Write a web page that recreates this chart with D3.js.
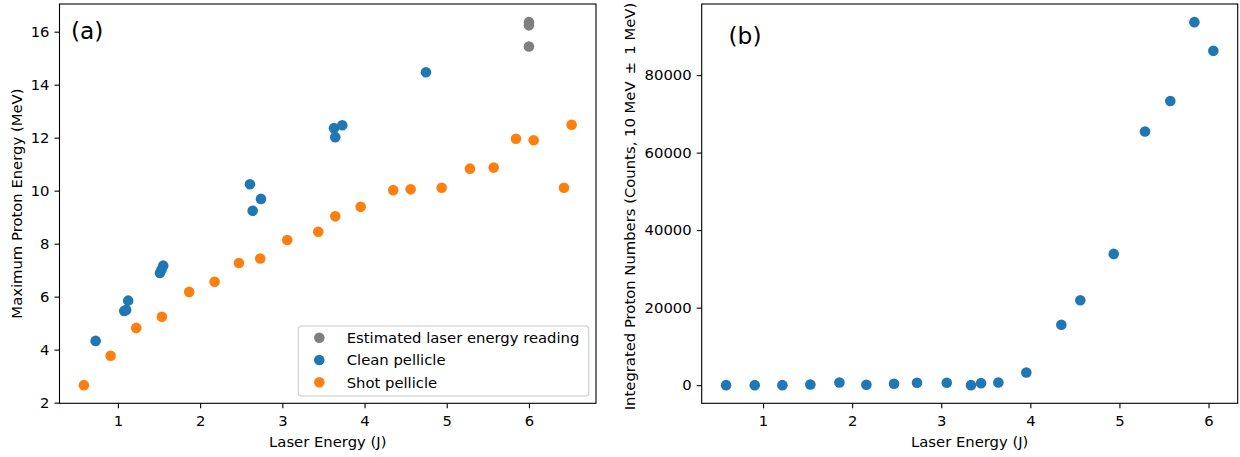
<!DOCTYPE html>
<html>
<head>
<meta charset="utf-8">
<script src="https://cdn.jsdelivr.net/npm/d3@7"></script>
<style>
  body { margin: 0; background: #fff; }
  svg text { font-family: "DejaVu Sans", sans-serif; fill: #000; }
</style>
</head>
<body>
<div id="d3-container"></div>
<script>
// panel (a) - maximum proton energy vs laser energy
const estimatedX = [6.0, 6.0, 6.0];
const estimatedY = [16.36, 16.24, 15.44];

const cleanX = [0.729, 1.077, 1.10, 1.125, 1.511, 1.53, 1.551, 2.606, 2.639, 2.74, 3.628, 3.644, 3.729, 4.747];
const cleanY = [4.33, 5.46, 5.50, 5.85, 6.89, 7.02, 7.17, 10.24, 9.24, 9.69, 12.36, 12.02, 12.47, 14.47];

const shotX = [0.586, 0.911, 1.223, 1.535, 1.867, 2.176, 2.472, 2.731, 3.06, 3.437, 3.644, 3.953,
               4.349, 4.561, 4.938, 5.282, 5.571, 5.842, 6.057, 6.426, 6.519];
const shotY = [2.66, 3.77, 4.82, 5.24, 6.18, 6.56, 7.27, 7.44, 8.14, 8.45, 9.03, 9.39,
               10.02, 10.05, 10.11, 10.83, 10.87, 11.96, 11.90, 10.11, 12.49];

// panel (b) - integrated proton numbers
const countX = [0.585, 0.907, 1.217, 1.531, 1.857, 2.16, 2.47, 2.728, 3.062, 3.334, 3.447, 3.641,
                3.955, 4.348, 4.561, 4.936, 5.287, 5.571, 5.841, 6.054];
const countY = [0, 0, 0, 180, 700, 100, 360, 620, 620, 0, 520, 700,
                3270, 15570, 21910, 33870, 65460, 73300, 93660, 86260];

const xTicks = [1, 2, 3, 4, 5, 6];
const yTicksA = [2, 4, 6, 8, 10, 12, 14, 16];
const yTicksB = [0, 20000, 40000, 60000, 80000];
const legendLabels = ["Estimated laser energy reading", "Clean pellicle", "Shot pellicle"];
const colors = ["#7f7f7f", "#1f77b4", "#ff7f0e"];

const width = 1240, height = 457;
const fs = 14.8;
const r = 5.3;

const svg = d3.select('#d3-container')
    .append('svg')
    .attr('width', width)
    .attr('height', height)
    .attr('viewBox', [0, 0, width, height]);

// matplotlib style 5% margin
function padded(vals) {
    const [lo, hi] = d3.extent(vals);
    const m = (hi - lo) * 0.05;
    return [lo - m, hi + m];
}

function zip(xs, ys) { return xs.map((x, i) => ({x: x, y: ys[i]})); }

function panel(box, xDom, yDom, yTicks, series, yLabelParts, tag, tagPos, yLabelPos) {
    const x = d3.scaleLinear().domain(xDom).range([box.left, box.right]);
    const y = d3.scaleLinear().domain(yDom).range([box.bottom, box.top]);

    series.forEach(s => {
        svg.append('g')
            .attr('fill', s.color)
            .selectAll('circle')
            .data(s.data)
            .join('circle')
            .attr('cx', d => x(d.x))
            .attr('cy', d => y(d.y))
            .attr('r', r);
    });

    const xAxis = svg.append('g')
        .attr('transform', `translate(0,${box.bottom})`)
        .call(d3.axisBottom(x).tickValues(xTicks).tickFormat(d3.format('d'))
            .tickSize(5).tickSizeOuter(0).tickPadding(7));
    const yAxis = svg.append('g')
        .attr('transform', `translate(${box.left},0)`)
        .call(d3.axisLeft(y).tickValues(yTicks).tickFormat(d3.format('d'))
            .tickSize(5).tickSizeOuter(0).tickPadding(5));
    [xAxis, yAxis].forEach(g => {
        g.select('.domain').remove();
        g.selectAll('line').attr('stroke', '#000').attr('stroke-width', 1.1);
        g.selectAll('text').attr('font-size', fs).attr('font-family', '"DejaVu Sans", sans-serif');
    });

    svg.append('rect')
        .attr('x', box.left).attr('y', box.top)
        .attr('width', box.right - box.left).attr('height', box.bottom - box.top)
        .attr('fill', 'none').attr('stroke', '#000').attr('stroke-width', 1.1);

    svg.append('text')
        .attr('x', (box.left + box.right) / 2).attr('y', 447)
        .attr('text-anchor', 'middle').attr('font-size', fs)
        .text('Laser Energy (J)');

    const yl = svg.append('text')
        .attr('transform', `translate(${yLabelPos[0]},${yLabelPos[1]}) rotate(-90)`)
        .attr('text-anchor', 'middle').attr('font-size', fs);
    yLabelParts.forEach(p => {
        yl.append('tspan').attr('dx', p.dx || 0).text(p.t);
    });

    svg.append('text')
        .attr('x', tagPos[0]).attr('y', tagPos[1])
        .attr('font-size', 23.3)
        .text(tag);
}

panel({left: 59.5, right: 596, top: 4, bottom: 403.3},
    padded(estimatedX.concat(cleanX, shotX)),
    padded(estimatedY.concat(cleanY, shotY)),
    yTicksA,
    [
        {color: colors[0], data: zip(estimatedX, estimatedY)},
        {color: colors[1], data: zip(cleanX, cleanY)},
        {color: colors[2], data: zip(shotX, shotY)}
    ],
    [{t: 'Maximum Proton Energy (MeV)'}], '(a)', [71, 38.5], [21.5, 203.6]);

// the \pm in the original is typeset with a little extra space around it
panel({left: 701.7, right: 1237.7, top: 4, bottom: 403.3},
    padded(countX), padded(countY), yTicksB,
    [{color: colors[1], data: zip(countX, countY)}],
    [{t: 'Integrated Proton Numbers (Counts, 10 MeV\u00a0'}, {t: '\u00b1', dx: 2.5}, {t: '\u00a01 MeV)', dx: 2.5}],
    '(b)', [728.5, 43.5], [635, 206.5]);

// legend
const leg = svg.append('g');
leg.append('rect')
    .attr('x', 298.3).attr('y', 326)
    .attr('width', 290.4).attr('height', 70)
    .attr('rx', 3)
    .attr('fill', '#fff').attr('fill-opacity', 0.8)
    .attr('stroke', '#cccccc').attr('stroke-width', 1.1);
legendLabels.forEach((lab, i) => {
    const yy = 337.7 + i * 22.3;
    leg.append('circle').attr('cx', 319.3).attr('cy', yy).attr('r', r).attr('fill', colors[i]);
    leg.append('text').attr('x', 346.7).attr('y', yy).attr('dy', '0.36em')
        .attr('font-size', fs).text(lab);
});
</script>
</body>
</html>
